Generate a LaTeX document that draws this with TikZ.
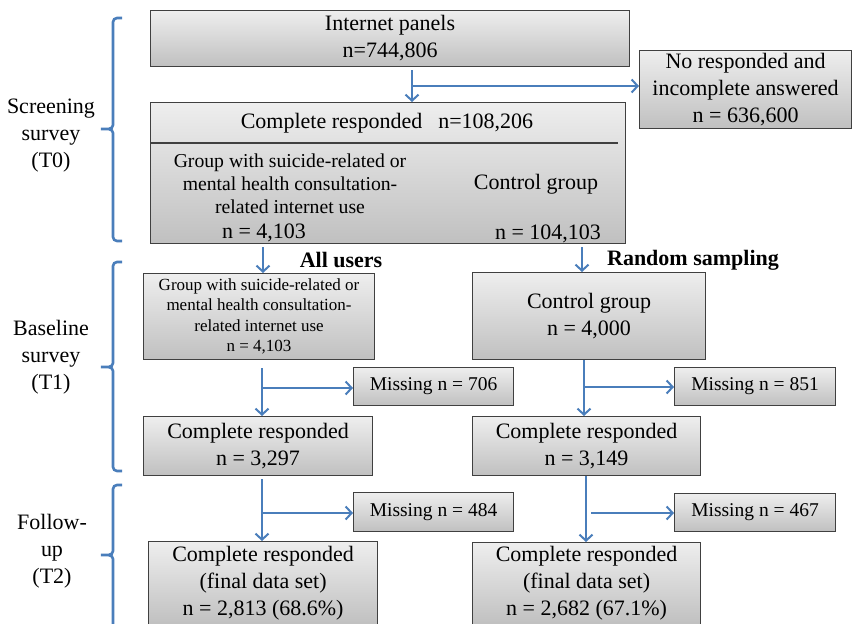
\documentclass[tikz,border=0pt]{standalone}
\usepackage{fontspec}
\setmainfont{Liberation Serif}
\usetikzlibrary{arrows.meta,calc}
\definecolor{arrblue}{HTML}{4A7EBB}
\definecolor{boxline}{HTML}{404040}
\definecolor{boxtop}{HTML}{EEEEEE}
\definecolor{boxbot}{HTML}{C0C0C0}
\newcommand\fsmain{\fontsize{22}{27}\selectfont}
\newcommand\fsmid{\fontsize{19.7}{23}\selectfont}
\newcommand\fssmall{\fontsize{17}{20.5}\selectfont}
\newcommand\fsmiss{\fontsize{19.5}{24}\selectfont}
\tikzset{
  box/.style={draw=boxline, line width=1.1pt, top color=boxtop, bottom color=boxbot,
    anchor=north west, inner sep=0pt, align=center, font=\fsmain},
  txt/.style={inner sep=0pt, align=center, font=\fsmain},
  arr/.style={draw=arrblue, line width=2.4pt, -{Straight Barb[length=6pt,width=13pt,line width=2pt]}},
  brace/.style={draw=arrblue, line width=2.6pt},
  lbl/.style={inner sep=0pt, align=center, font=\fsmain},
  head/.style={inner sep=0pt, font=\fsmain\bfseries}
}
\begin{document}
\begin{tikzpicture}[x=1pt,y=-1pt]
\useasboundingbox (0,0) rectangle (852,624);
\fill[white] (0,0) rectangle (852,624);

% boxes
\node[box, minimum width=479pt, minimum height=56pt] (ip) at (150,10) {Internet panels\\n=744,806};
\node[box, minimum width=212pt, minimum height=78pt] (nr) at (639,50) {No responded and\\incomplete answered\\n = 636,600};
\node[box, minimum width=475pt, minimum height=141pt] (cr) at (150,102) {};
\node[txt] (crt) at (387,123) {Complete responded\hspace{16pt}n=108,206};
\node[txt, font=\fsmid] (crg) at (290,184) {Group with suicide-related or\\mental health consultation-\\related internet use};
\node[txt] (crgn) at (264,233) {n = 4,103};
\node[txt] (crc) at (536,184) {Control group};
\node[txt] (crcn) at (548,234) {n = 104,103};
\coordinate (sepL) at (150,143);
\coordinate (sepR) at (618,143);
\draw[boxline, line width=1.1pt] (sepL) -- (sepR);

\node[box, font=\fssmall, minimum width=231pt, minimum height=86pt] (gb) at (143,273)
  {Group with suicide-related or\\mental health consultation-\\related internet use\\{\fontsize{17}{20}\selectfont n = 4,103}};
\node[box, minimum width=233pt, minimum height=87pt] (cb) at (472,272) {Control group\\n = 4,000};

\node[box, font=\fsmiss, minimum width=160pt, minimum height=38pt] (m1) at (353,367) {Missing n = 706};
\node[box, font=\fsmiss, minimum width=161pt, minimum height=38pt] (m2) at (674,367) {Missing n = 851};
\node[box, minimum width=229pt, minimum height=59pt] (c1) at (143,416) {Complete responded\\n = 3,297};
\node[box, minimum width=228pt, minimum height=59pt] (c2) at (472,416) {Complete responded\\n = 3,149};

\node[box, font=\fsmiss, minimum width=160pt, minimum height=39pt] (m3) at (353,492) {Missing n = 484};
\node[box, font=\fsmiss, minimum width=161pt, minimum height=38pt] (m4) at (674,493) {Missing n = 467};
\node[box, minimum width=229pt, minimum height=83pt] (f1) at (148,541) {Complete responded\\(final data set)\\n = 2,813 (68.6\%)};
\node[box, minimum width=228pt, minimum height=82pt] (f2) at (472,542) {Complete responded\\(final data set)\\n = 2,682 (67.1\%)};

% headings
\node[head] (hau) at (341,260) {All users};
\node[head] (hrs) at (693,260) {Random sampling};

% arrows
\coordinate (a0) at (412,0);
\coordinate (b0) at (412,86);
\draw[arr, shorten <=3pt] (ip.south -| a0) -- (cr.north -| a0);
\draw[arr] (b0) -- (b0 -| nr.west);

\coordinate (a1) at (263,0);
\coordinate (a2) at (582,0);
\draw[arr, shorten <=3pt] (cr.south -| a1) -- (gb.north -| a1);
\draw[arr, shorten <=3pt] (cr.south -| a2) -- (cb.north -| a2);

\coordinate (a3) at (262,0);
\coordinate (b3) at (262,388);
\draw[arr, shorten <=8pt] (gb.south -| a3) -- (c1.north -| a3);
\draw[arr] (b3) -- (b3 -| m1.west);
\coordinate (a4) at (584,0);
\coordinate (b4) at (584,387);
\draw[arr] (cb.south -| a4) -- (c2.north -| a4);
\draw[arr] (b4) -- (b4 -| m2.west);

\coordinate (a5) at (262,0);
\coordinate (b5) at (262,513);
\draw[arr, shorten <=3pt] (c1.south -| a5) -- (f1.north -| a5);
\draw[arr] (b5) -- (b5 -| m3.west);
\coordinate (a6) at (586,0);
\coordinate (b6) at (591,513);
\draw[arr] (c2.south -| a6) -- (f2.north -| a6);
\draw[arr] (b6) -- (b6 -| m4.west);

% braces
\draw[brace] (122,18) -- (117,18) to[out=180,in=90] (113,22) -- (113,125)
  to[out=-90,in=0] (101,129) to[out=0,in=90] (113,133) -- (113,237)
  to[out=-90,in=180] (117,241) -- (122,241);
\draw[brace] (122,262) -- (117,262) to[out=180,in=90] (113,266) -- (113,363)
  to[out=-90,in=0] (101,367) to[out=0,in=90] (113,371) -- (113,467)
  to[out=-90,in=180] (117,471) -- (122,471);
\draw[brace] (122,485) -- (117,485) to[out=180,in=90] (113,489) -- (113,551)
  to[out=-90,in=0] (101,555) to[out=0,in=90] (113,559) -- (113,640);

% labels
\node[lbl] (l0) at (51,136) {Screening\\survey\\(T0)};
\node[lbl] (l1) at (51,357) {Baseline\\survey\\(T1)};
\node[lbl] (l2) at (52,551) {Follow-\\up\\(T2)};
\end{tikzpicture}
\end{document}
